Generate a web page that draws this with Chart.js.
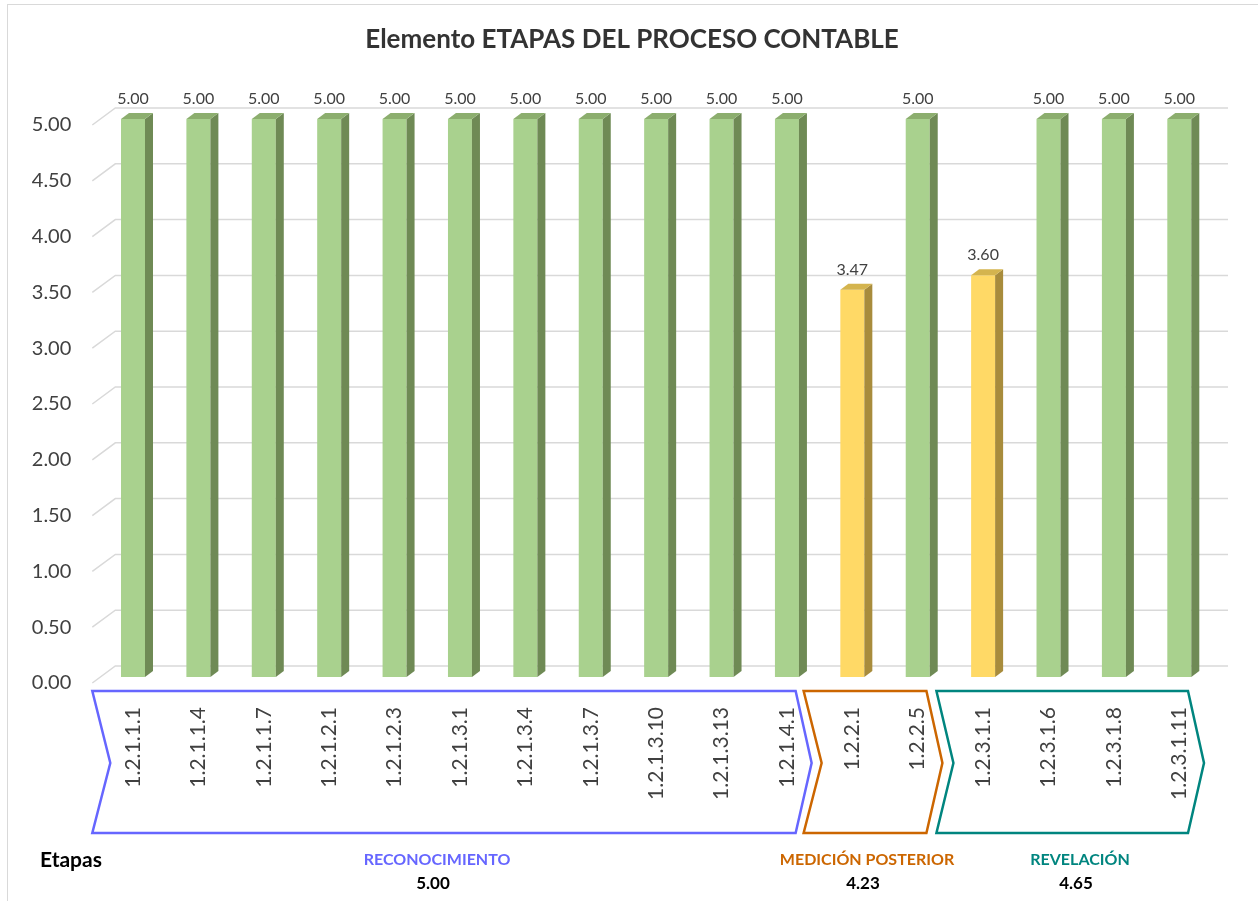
<!DOCTYPE html>
<html>
<head>
<meta charset="utf-8">
<script src="https://cdn.jsdelivr.net/npm/chart.js@4.4.0/dist/chart.umd.min.js"></script>
<style>
body { margin: 0; background: #fff; }
canvas { display: block; }
</style>
</head>
<body>
<canvas id="chart1" width="1258" height="901"></canvas>
<script>
// data
const codes = ['1.2.1.1.1','1.2.1.1.4','1.2.1.1.7','1.2.1.2.1','1.2.1.2.3','1.2.1.3.1','1.2.1.3.4','1.2.1.3.7','1.2.1.3.10','1.2.1.3.13','1.2.1.4.1','1.2.2.1','1.2.2.5','1.2.3.1.1','1.2.3.1.6','1.2.3.1.8','1.2.3.1.11'];
const scores = [5.00,5.00,5.00,5.00,5.00,5.00,5.00,5.00,5.00,5.00,5.00,3.47,5.00,3.60,5.00,5.00,5.00];
const stageNames = ['RECONOCIMIENTO','MEDICIÓN POSTERIOR','REVELACIÓN'];
const stageFirst = [0, 11, 13];
const stageLast = [10, 12, 16];
const stageScores = ['5.00','4.23','4.65'];

// look
const stageStyle = [
    {color: '#6666FF', tl: -8, notch: 10, labelX: 437},
    {color: '#CC6600', tl: -16, notch: 2, labelX: 867},
    {color: '#00857F', tl: -14, notch: 3, labelX: 1080}
];
const green = {front: '#A9D18E', side: '#6F8A55', top: '#8CAE6E'};
const yellow = {front: '#FFD966', side: '#A88C3C', top: '#D4B44E'};
const DX = 8, DY = 6, LIFT = 6;
const txt = '#404040';

const bar3d = {
    id: 'bar3d',
    beforeDatasetsDraw(chart) {
        const {ctx, chartArea, scales: {y}} = chart;
        ctx.save();
        ctx.strokeStyle = '#D9D9D9';
        ctx.lineWidth = 1.5;
        y.ticks.forEach(t => {
            const py = y.getPixelForValue(t.value);
            ctx.beginPath();
            ctx.moveTo(chartArea.left - 8, py);
            ctx.lineTo(chartArea.left + 15, py - 17);
            ctx.lineTo(1228, py - 17);
            ctx.stroke();
        });
        ctx.restore();
        ctx.save();
        ctx.translate(0, -LIFT);
    },
    afterDatasetsDraw(chart) {
        const ctx = chart.ctx;
        const meta = chart.getDatasetMeta(0);
        meta.data.forEach((bar, i) => {
            const p = bar.getProps(['x', 'y', 'base', 'width'], true);
            const x0 = p.x - p.width / 2, x1 = p.x + p.width / 2;
            const c = scores[i] >= 4 ? green : yellow;
            ctx.fillStyle = c.side;
            ctx.beginPath();
            ctx.moveTo(x1, p.y);
            ctx.lineTo(x1 + DX, p.y - DY);
            ctx.lineTo(x1 + DX, p.base - DY);
            ctx.lineTo(x1, p.base);
            ctx.closePath();
            ctx.fill();
            ctx.fillStyle = c.top;
            ctx.beginPath();
            ctx.moveTo(x0, p.y);
            ctx.lineTo(x0 + DX, p.y - DY);
            ctx.lineTo(x1 + DX, p.y - DY);
            ctx.lineTo(x1, p.y);
            ctx.closePath();
            ctx.fill();
        });
        ctx.restore();

        // value labels
        ctx.save();
        ctx.font = '16px Lato';
        ctx.fillStyle = txt;
        ctx.textAlign = 'center';
        ctx.textBaseline = 'middle';
        meta.data.forEach((bar, i) => {
            ctx.fillText(scores[i].toFixed(2), bar.x, bar.y - LIFT - DY - 14);
        });
        ctx.restore();
    },
    afterDraw(chart) {
        const {ctx, scales: {x}} = chart;
        const cw = x.getPixelForValue(1) - x.getPixelForValue(0);
        ctx.save();
        // outer frame
        ctx.strokeStyle = '#D9D9D9';
        ctx.lineWidth = 1;
        ctx.strokeRect(7.5, 4.5, 1300, 1000);

        // title
        ctx.fillStyle = '#333333';
        ctx.font = 'bold 26px Lato';
        ctx.textAlign = 'center';
        ctx.textBaseline = 'middle';
        ctx.fillText('Elemento ETAPAS DEL PROCESO CONTABLE', 632, 40);

        // stage chevrons
        const top = 691, bot = 833, mid = 763;
        stageNames.forEach((name, k) => {
            const s = stageStyle[k];
            const start = x.getPixelForValue(stageFirst[k]) - cw / 2;
            const end = x.getPixelForValue(stageLast[k]) + cw / 2;
            ctx.strokeStyle = s.color;
            ctx.lineWidth = 2.5;
            ctx.lineJoin = 'miter';
            ctx.beginPath();
            ctx.moveTo(start + s.tl, top);
            ctx.lineTo(end - 24, top);
            ctx.lineTo(end - 8, mid);
            ctx.lineTo(end - 24, bot);
            ctx.lineTo(start + s.tl, bot);
            ctx.lineTo(start + s.notch, mid);
            ctx.closePath();
            ctx.stroke();

            ctx.fillStyle = s.color;
            ctx.font = 'bold 16px Lato';
            ctx.fillText(name, s.labelX, 860);
            ctx.fillStyle = '#000';
            ctx.font = 'bold 17px Lato';
            ctx.fillText(stageScores[k], s.labelX - 4, 884);
        });

        ctx.fillStyle = '#000';
        ctx.font = 'bold 21px Lato';
        ctx.textAlign = 'left';
        ctx.fillText('Etapas', 40, 860);
        ctx.restore();
    }
};

new Chart('chart1', {
    type: 'bar',
    data: {
        labels: codes,
        datasets: [{
            data: scores,
            backgroundColor: scores.map(v => v >= 4 ? green.front : yellow.front),
            borderWidth: 0,
            categoryPercentage: 1,
            barPercentage: 0.367
        }]
    },
    options: {
        responsive: false,
        animation: false,
        layout: {padding: {top: 125, right: 46, left: 0, bottom: 0}},
        plugins: {
            legend: {display: false},
            tooltip: {enabled: false},
            title: {display: false}
        },
        scales: {
            x: {
                grid: {display: false, drawTicks: false},
                border: {display: false},
                ticks: {
                    autoSkip: false,
                    minRotation: 90,
                    maxRotation: 90,
                    padding: 24,
                    color: txt,
                    font: {family: 'Lato', size: 21}
                },
                afterFit(scale) { scale.height = 218; }
            },
            y: {
                min: 0,
                max: 5,
                grid: {display: false, drawTicks: false},
                border: {display: false},
                ticks: {
                    stepSize: 0.5,
                    padding: 29,
                    color: txt,
                    font: {family: 'Lato', size: 20},
                    callback: v => v.toFixed(2)
                },
                afterFit(scale) { scale.width = 100.3; }
            }
        }
    },
    plugins: [bar3d]
});
</script>
</body>
</html>
